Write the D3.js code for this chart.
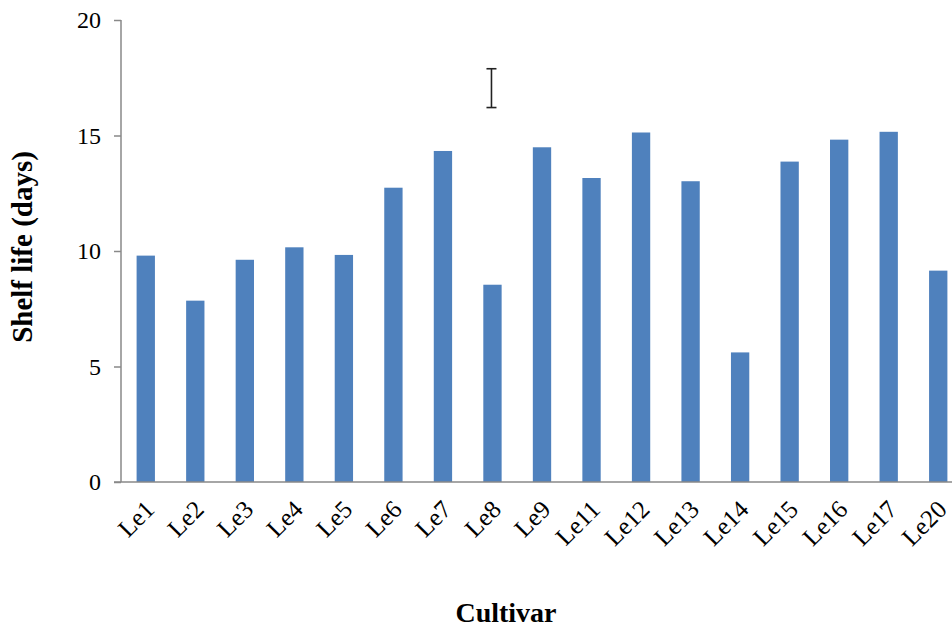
<!DOCTYPE html>
<html>
<head>
<meta charset="utf-8">
<script src="https://cdn.jsdelivr.net/npm/d3@7"></script>
<style>
  html, body { margin: 0; padding: 0; background: #fff; }
  svg { display: block; }
  text { font-family: "Liberation Serif", "Times New Roman", serif; fill: #000; }
</style>
</head>
<body>
<svg id="chart" width="952" height="627"></svg>
<script>
// Shelf life of each cultivar (days)
const cultivars = ["Le1","Le2","Le3","Le4","Le5","Le6","Le7","Le8","Le9","Le11",
                   "Le12","Le13","Le14","Le15","Le16","Le17","Le20"];
const shelfLife = [9.80, 7.85, 9.62, 10.16, 9.83, 12.74, 14.33, 8.54, 14.49, 13.16,
                   15.13, 13.02, 5.61, 13.87, 14.82, 15.16, 9.15];
const yTicks = [0, 5, 10, 15, 20];

// LSD bar drawn above Le8
const lsdCultivar = "Le8";
const lsdLow = 16.21;
const lsdHigh = 17.89;

const svg = d3.select("#chart");
const plotLeft = 121, plotTop = 20, plotBottom = 482, plotRight = 963;

const x = d3.scaleBand()
  .domain(cultivars)
  .range([plotLeft, plotRight])
  .paddingInner(0.63)
  .paddingOuter(0.315);

const y = d3.scaleLinear().domain([0, 20]).range([plotBottom, plotTop]);

const axisColor = "#898989";

// bars
svg.append("g")
  .selectAll("rect")
  .data(cultivars)
  .join("rect")
  .attr("x", d => x(d))
  .attr("width", x.bandwidth())
  .attr("y", (d, i) => y(shelfLife[i]))
  .attr("height", (d, i) => y(0) - y(shelfLife[i]))
  .attr("fill", "#4F81BD");

// y axis
const yAxis = svg.append("g")
  .attr("transform", `translate(${plotLeft},0)`)
  .call(d3.axisLeft(y).tickValues(yTicks).tickSize(7).tickPadding(13).tickFormat(d3.format("d")));
yAxis.select(".domain").attr("stroke", axisColor).attr("stroke-width", 1.5)
  .attr("d", `M0,${plotTop}V${plotBottom}`);
yAxis.selectAll(".tick line").attr("stroke", axisColor).attr("stroke-width", 1.5);
yAxis.selectAll(".tick text")
  .style("font-family", "Liberation Serif, Times New Roman, serif")
  .style("font-size", "24px")
  .attr("fill", "#000");

// x axis
const xAxis = svg.append("g")
  .attr("transform", `translate(0,${plotBottom})`)
  .call(d3.axisBottom(x).tickSize(0).tickPadding(0));
xAxis.select(".domain").attr("stroke", axisColor).attr("stroke-width", 1.5)
  .attr("d", `M${plotLeft - 7},0H${plotRight}`);
xAxis.selectAll(".tick text")
  .style("font-family", "Liberation Serif, Times New Roman, serif")
  .style("font-size", "25px")
  .attr("fill", "#000")
  .attr("text-anchor", "end")
  .attr("dy", 0)
  .attr("y", 0)
  .attr("transform", "translate(10,29) rotate(-45)");

// LSD error bar
const ex = x(lsdCultivar) + x.bandwidth() / 2 - 1;
const eb = svg.append("g").attr("stroke", "#222").attr("stroke-width", 1.6).attr("fill", "none");
eb.append("line").attr("x1", ex).attr("x2", ex).attr("y1", y(lsdHigh)).attr("y2", y(lsdLow));
eb.append("line").attr("x1", ex - 5).attr("x2", ex + 5).attr("y1", y(lsdHigh)).attr("y2", y(lsdHigh));
eb.append("line").attr("x1", ex - 5).attr("x2", ex + 5).attr("y1", y(lsdLow)).attr("y2", y(lsdLow));

// axis titles
svg.append("text")
  .attr("transform", `translate(32,${(plotTop + plotBottom) / 2 - 4}) rotate(-90)`)
  .attr("text-anchor", "middle")
  .style("font-size", "29px")
  .style("font-weight", "bold")
  .text("Shelf life (days)");

svg.append("text")
  .attr("x", 506)
  .attr("y", 622)
  .attr("text-anchor", "middle")
  .style("font-size", "28px")
  .style("font-weight", "bold")
  .text("Cultivar");
</script>
</body>
</html>
